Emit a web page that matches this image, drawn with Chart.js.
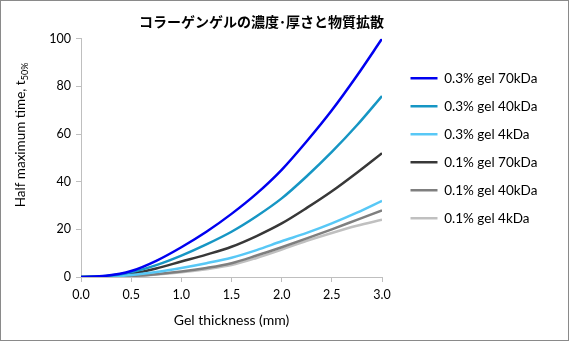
<!DOCTYPE html>
<html>
<head>
<meta charset="utf-8">
<script src="https://cdn.jsdelivr.net/npm/chart.js@4"></script>
<style>
    html, body { margin: 0; padding: 0; background: #fff; }
    #wrap { width: 569px; height: 341px; }
</style>
</head>
<body>
<div id="wrap"><canvas id="chart" width="569" height="341"></canvas></div>
<script>
const thickness = [0, 0.25, 0.5, 0.75, 1.0, 1.25, 1.5, 1.75, 2.0, 2.25, 2.5, 2.75, 3.0];

const seriesNames = [
    "0.3% gel 70kDa",
    "0.3% gel 40kDa",
    "0.3% gel 4kDa",
    "0.1% gel 70kDa",
    "0.1% gel 40kDa",
    "0.1% gel 4kDa",
];

const gel03_70k = [0, 0.5, 2.5, 6.8, 12.5, 19, 26.5, 35, 45, 57, 70, 84.5, 100];
const gel03_40k = [0, 0.4, 2, 5, 9, 13.7, 19, 25.5, 33, 42.3, 52.5, 63.7, 76];
const gel03_4k = [0, 0.1, 0.8, 2.1, 3.8, 5.8, 8.1, 11.3, 15, 18.5, 22.5, 27, 32];
const gel01_70k = [0, 0.3, 1.4, 3.6, 6.5, 9.4, 12.7, 17.2, 22.5, 29, 36, 43.8, 52];
const gel01_40k = [0, 0.05, 0.4, 1.2, 2.3, 3.8, 5.8, 9, 12.5, 16.2, 20, 24, 28];
const gel01_4k = [0, 0.05, 0.3, 1, 2, 3.3, 5, 8, 11.5, 15.2, 18.5, 21.5, 24];

const lineColors = ["#0000f0", "#1696c4", "#58c8f6", "#383838", "#7f7f7f", "#c0c0c0"];

const yTicks = [0, 20, 40, 60, 80, 100];
const xTicks = [0, 0.5, 1.0, 1.5, 2.0, 2.5, 3.0];

const baseFont = "Lato, 'DejaVu Sans', sans-serif";

function toPoints(values) {
    return values.map((v, i) => ({ x: thickness[i], y: v }));
}

const allSeries = [gel03_70k, gel03_40k, gel03_4k, gel01_70k, gel01_40k, gel01_4k];

// white background + thin frame like the exported picture
const frame = {
    id: "frame",
    beforeDraw(chart) {
        const ctx = chart.ctx;
        ctx.save();
        ctx.fillStyle = "#ffffff";
        ctx.fillRect(0, 0, chart.width, chart.height);
        ctx.strokeStyle = "#8a8a8a";
        ctx.lineWidth = 1;
        ctx.strokeRect(0.5, 0.5, chart.width - 1, chart.height - 1);
        ctx.restore();
    },
};

// y title with subscript "50%"
const yTitle = {
    id: "yTitle",
    afterDraw(chart) {
        const ctx = chart.ctx;
        const main = "Half maximum time, t";
        const sub = "50%";
        ctx.save();
        ctx.translate(25, 135);
        ctx.rotate(-Math.PI / 2);
        ctx.fillStyle = "#000";
        ctx.textBaseline = "alphabetic";
        ctx.font = `13.5px ${baseFont}`;
        const w1 = ctx.measureText(main).width;
        ctx.font = `9px ${baseFont}`;
        const w2 = ctx.measureText(sub).width;
        const start = -(w1 + w2) / 2;
        ctx.font = `13.5px ${baseFont}`;
        ctx.fillText(main, start, 0);
        ctx.font = `9px ${baseFont}`;
        ctx.fillText(sub, start + w1, 3);
        ctx.restore();
    },
};

// fix legend box width, nudge legend items and title to where they sit in the reference
const boxTweaks = {
    id: "boxTweaks",
    afterInit(chart) {
        const legend = chart.legend;
        const baseFit = legend.fit.bind(legend);
        legend.fit = function () {
            baseFit();
            this.width = 187;
        };
    },
    afterLayout(chart) {
        chart.legend.left += 14;
        chart.legend.top += 57;
        if (chart.titleBlock) {
            chart.titleBlock.left -= 23;
            chart.titleBlock.right -= 23;
        }
    },
};

new Chart(document.getElementById("chart"), {
    type: "line",
    data: {
        datasets: allSeries.map((vals, i) => ({
            label: seriesNames[i],
            data: toPoints(vals),
            borderColor: lineColors[i],
            backgroundColor: lineColors[i],
            borderWidth: 2.5,
            pointRadius: 0,
            cubicInterpolationMode: "monotone",
            fill: false,
        })),
    },
    options: {
        responsive: false,
        animation: false,
        layout: { padding: { left: 0, right: 0, top: 0, bottom: 8 } },
        plugins: {
            title: {
                display: true,
                text: "コラーゲンゲルの濃度･厚さと物質拡散",
                color: "#000",
                font: { family: "'Noto Sans CJK JP', sans-serif", size: 14, weight: "bold" },
                padding: { top: 13, bottom: 9 },
            },
            legend: {
                position: "right",
                align: "start",
                labels: {
                    color: "#000",
                    font: { family: baseFont, size: 13.5 },
                    usePointStyle: true,
                    pointStyle: "line",
                    pointStyleWidth: 27,
                    padding: 14.5,
                },
            },
            tooltip: { enabled: false },
        },
        scales: {
            x: {
                type: "linear",
                min: 0,
                max: 3,
                afterBuildTicks(scale) {
                    scale.ticks = xTicks.map(v => ({ value: v }));
                },
                afterFit(scale) {
                    scale.height = 56;
                },
                ticks: {
                    color: "#000",
                    font: { family: baseFont, size: 12.5 },
                    padding: 5,
                    callback: v => v.toFixed(1),
                },
                grid: { drawOnChartArea: false, drawTicks: true, tickLength: 5, color: "#bfbfbf" },
                border: { color: "#bfbfbf" },
                title: {
                    display: true,
                    text: "Gel thickness (mm)",
                    color: "#000",
                    font: { family: baseFont, size: 14 },
                    padding: { top: 4, bottom: 4 },
                },
            },
            y: {
                type: "linear",
                min: 0,
                max: 100,
                afterBuildTicks(scale) {
                    scale.ticks = yTicks.map(v => ({ value: v }));
                },
                afterFit(scale) {
                    scale.width = 81;
                },
                ticks: {
                    color: "#000",
                    font: { family: baseFont, size: 12.5 },
                    padding: 5,
                },
                grid: { drawOnChartArea: false, drawTicks: true, tickLength: 5, color: "#bfbfbf" },
                border: { color: "#bfbfbf" },
            },
        },
    },
    plugins: [frame, yTitle, boxTweaks],
});
</script>
</body>
</html>
